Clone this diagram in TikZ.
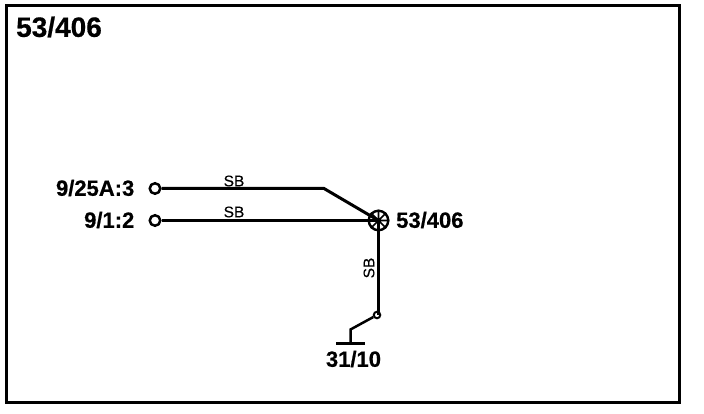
\documentclass[tikz,border=0pt]{standalone}
\usepackage{fontspec}
\setmainfont[BoldFeatures={FakeBold=0.6}]{Liberation Sans}
\tikzset{
  x=1pt,y=-1pt,
  wire/.style={line width=3pt,black,line cap=butt},
  term/.style={circle,draw=black,fill=white,line width=2.5pt,inner sep=0pt,minimum size=10.5pt},
  smallterm/.style={circle,draw=black,fill=white,line width=2pt,inner sep=0pt,minimum size=6.5pt},
  lab/.style={font=\fontsize{22}{22}\selectfont\bfseries,inner sep=0pt,text=black},
  wirelab/.style={font=\fontsize{15.5}{15.5}\selectfont\addfontfeature{FakeBold=0.2},inner sep=0pt,text=black}
}
\begin{document}
\begin{tikzpicture}
\useasboundingbox (0,0) rectangle (704,414);
\fill[white] (0,0) rectangle (704,414);
\draw[line width=3pt,black] (6.5,5.5) rectangle (679.5,402.5);
\node[lab,font=\fontsize{28}{28}\selectfont\bfseries,anchor=west] (title) at (16,27) {53/406};
\node[term] (t1) at (155,188.5) {};
\node[term] (t2) at (155,220.5) {};
\node[circle,draw=black,line width=2.4pt,inner sep=0pt,minimum size=19.5pt] (sp) at (378.5,220.5) {};
\node[smallterm] (sw) at (377,315) {};
\coordinate (bend) at (324,188.5);
\coordinate (swb) at (350.5,329.5);
\coordinate (gnd) at (350.5,343.5);
\coordinate (gl) at (336,343.5);
\coordinate (gr) at (365,343.5);
\draw[wire] (t1) -- (bend) -- (sp.center);
\draw[wire] (t2) -- (sp.center);
\draw[wire] (sp.center) -- (sp.center |- sw);
\draw[line width=1.7pt] (sp.north) -- (sp.south) (sp.west) -- (sp.east) (sp.north west) -- (sp.south east) (sp.north east) -- (sp.south west);
\draw[wire,line width=2.5pt] (sw) -- (swb) -- (gnd);
\draw[wire] (gl) -- (gr);
\node[lab,anchor=east] (l1) at (134.5,188) {9/25A:3};
\node[lab,anchor=east] (l2) at (134.5,220) {9/1:2};
\node[lab,anchor=west] (l3) at (396,220) {53/406};
\node[lab] (l4) at (353.5,359) {31/10};
\node[wirelab] (s1) at (234,181) {SB};
\node[wirelab] (s2) at (234,212) {SB};
\node[wirelab,rotate=90] (s3) at (369,268) {SB};
\end{tikzpicture}
\end{document}
